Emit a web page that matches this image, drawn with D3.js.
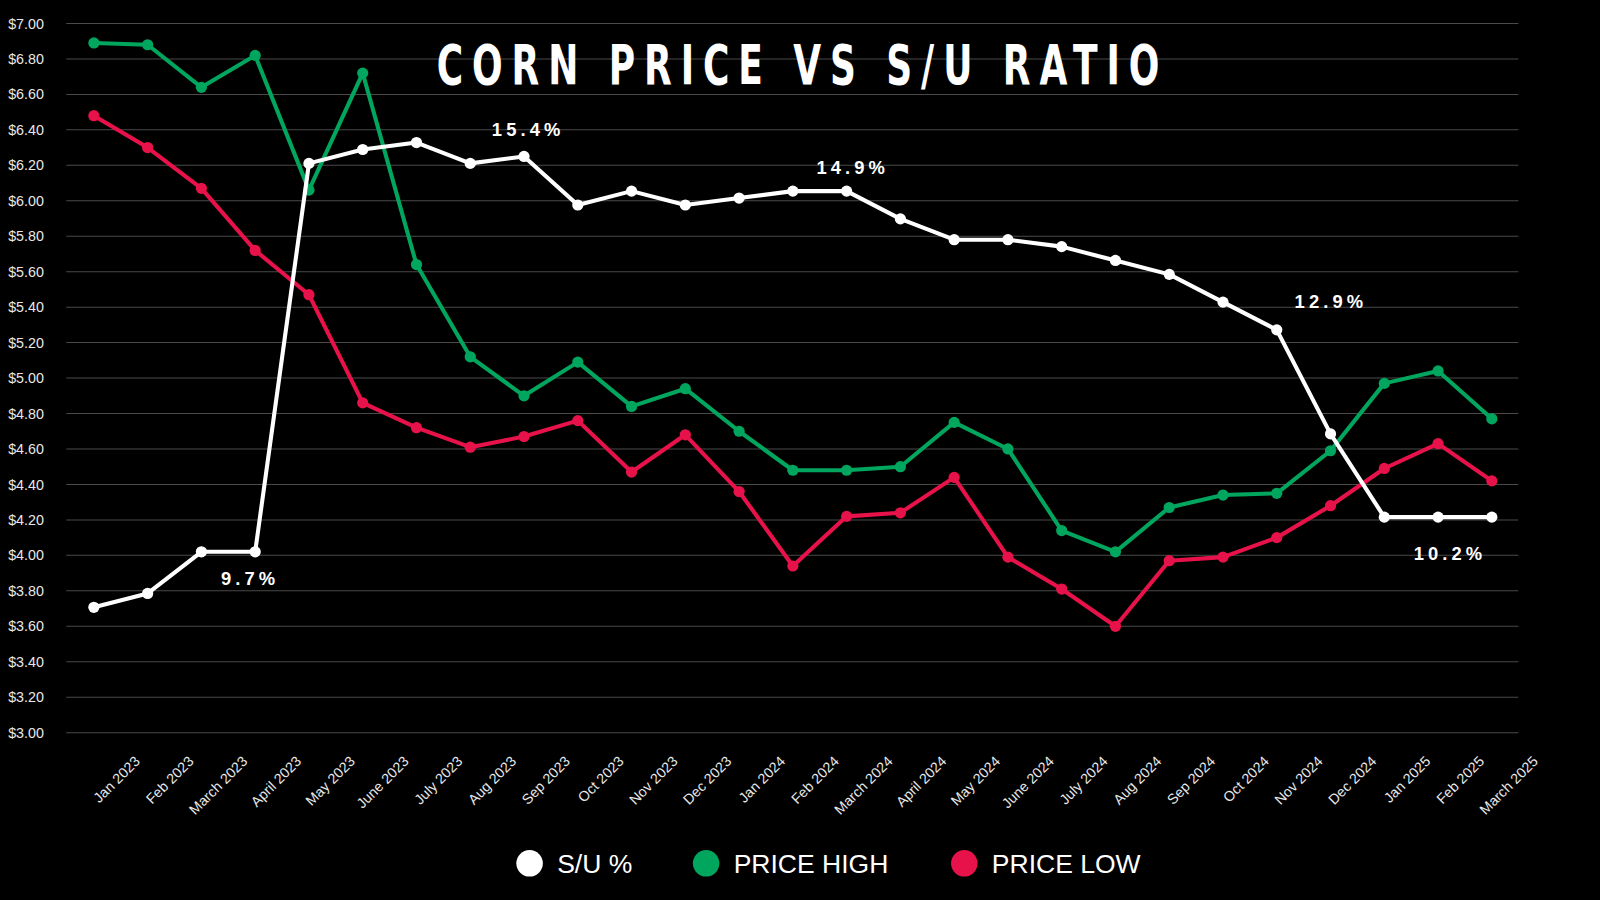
<!DOCTYPE html>
<html>
<head>
<meta charset="utf-8">
<script src="https://cdn.jsdelivr.net/npm/d3@7"></script>
<style>
  html, body { margin: 0; padding: 0; background: #000; }
  svg { display: block; }
</style>
</head>
<body>
<div class="canvas"></div>
<script>
const months = ["Jan 2023", "Feb 2023", "March 2023", "April 2023", "May 2023", "June 2023",
    "July 2023", "Aug 2023", "Sep 2023", "Oct 2023", "Nov 2023", "Dec 2023",
    "Jan 2024", "Feb 2024", "March 2024", "April 2024", "May 2024", "June 2024",
    "July 2024", "Aug 2024", "Sep 2024", "Oct 2024", "Nov 2024", "Dec 2024",
    "Jan 2025", "Feb 2025", "March 2025"];

const priceHigh = [6.89, 6.88, 6.64, 6.82, 6.06, 6.72, 5.64, 5.12, 4.90, 5.09, 4.84, 4.94,
    4.70, 4.48, 4.48, 4.50, 4.75, 4.60, 4.14, 4.02, 4.27, 4.34, 4.35, 4.59, 4.97, 5.04, 4.77];

const priceLow = [6.48, 6.30, 6.07, 5.72, 5.47, 4.86, 4.72, 4.61, 4.67, 4.76, 4.47, 4.68,
    4.36, 3.94, 4.22, 4.24, 4.44, 3.99, 3.81, 3.60, 3.97, 3.99, 4.10, 4.28, 4.49, 4.63, 4.42];

// stocks-to-use ratio, percent
const suRatio = [8.9, 9.1, 9.7, 9.7, 15.3, 15.5, 15.6, 15.3, 15.4, 14.7, 14.9, 14.7,
    14.8, 14.9, 14.9, 14.5, 14.2, 14.2, 14.1, 13.9, 13.7, 13.3, 12.9, 11.4, 10.2, 10.2, 10.2];

const yTicks = d3.range(3, 7.001, 0.2);

const annotations = [
    { i: 3, text: "9.7%", dx: -5, dy: 33 },
    { i: 8, text: "15.4%", dx: 4, dy: -20 },
    { i: 14, text: "14.9%", dx: 6, dy: -17 },
    { i: 22, text: "12.9%", dx: 53, dy: -21 },
    { i: 26, text: "10.2%", dx: -41, dy: 42 },
];

const legendItems = [
    { label: "S/U %", color: "#ffffff" },
    { label: "PRICE HIGH", color: "#00a65e" },
    { label: "PRICE LOW", color: "#e8124a" },
];

const W = 1568, H = 882;
const svg = d3.select(".canvas").append("svg")
    .attr("width", 1600).attr("height", 900)
    .attr("viewBox", `0 0 ${W} ${H}`);

svg.append("rect").attr("width", W).attr("height", H).attr("fill", "#000");

const x = d3.scalePoint().domain(months).range([92, 1462]);
const y = d3.scaleLinear().domain([3, 7]).range([718, 23]);
// S/U drawn against the price axis
const ySU = d3.scaleLinear().domain([9.7, 15.4]).range([y(4.02), y(6.25)]);

// grid + y labels
svg.append("g").selectAll("line").data(yTicks).join("line")
    .attr("x1", 65).attr("x2", 1488)
    .attr("y1", d => y(d)).attr("y2", d => y(d))
    .attr("stroke", "#4a4a4a").attr("stroke-width", 1);

svg.append("g").selectAll("text").data(yTicks).join("text")
    .attr("x", 8).attr("y", d => y(d) + 5)
    .attr("fill", "#e8e8e8")
    .style("font", "14px 'Liberation Sans', Arial, sans-serif")
    .text(d => "$" + d.toFixed(2));

// x labels
svg.append("g").selectAll("text").data(months).join("text")
    .attr("transform", d => `translate(${x(d) + 46},${747}) rotate(-45)`)
    .attr("text-anchor", "end")
    .attr("fill", "#e8e8e8")
    .style("font", "14px 'Liberation Sans', Arial, sans-serif")
    .text(d => d);

// title
svg.append("text")
    .attr("x", 428).attr("y", 82)
    .attr("textLength", 717)
    .attr("lengthAdjust", "spacingAndGlyphs")
    .attr("fill", "#fff")
    .style("font", "bold 54px 'DejaVu Sans Condensed', sans-serif")
    .style("letter-spacing", "12px")
    .text("CORN PRICE VS S/U RATIO");

function drawSeries(values, scale, color) {
    const line = d3.line().x((d, i) => x(months[i])).y(d => scale(d));
    svg.append("path").datum(values)
        .attr("d", line).attr("fill", "none")
        .attr("stroke", color).attr("stroke-width", 4)
        .attr("stroke-linejoin", "round");
    svg.append("g").selectAll("circle").data(values).join("circle")
        .attr("cx", (d, i) => x(months[i])).attr("cy", d => scale(d))
        .attr("r", 5.5).attr("fill", color);
}

drawSeries(priceHigh, y, "#00a65e");
drawSeries(priceLow, y, "#e8124a");
drawSeries(suRatio, ySU, "#ffffff");

svg.append("g").selectAll("text").data(annotations).join("text")
    .attr("x", d => x(months[d.i]) + d.dx)
    .attr("y", d => ySU(suRatio[d.i]) + d.dy)
    .attr("text-anchor", "middle")
    .attr("fill", "#fff")
    .style("font", "bold 18px 'Liberation Sans', Arial, sans-serif")
    .style("letter-spacing", "4px")
    .text(d => d.text);

// legend
const legendX = [519, 692, 945];
const lg = svg.append("g").selectAll("g").data(legendItems).join("g")
    .attr("transform", (d, i) => `translate(${legendX[i]},846)`);
lg.append("circle").attr("r", 13).attr("fill", d => d.color);
lg.append("text").attr("x", 27).attr("y", 10)
    .attr("fill", "#fff")
    .style("font", "26px 'Liberation Sans', Arial, sans-serif")
    .text(d => d.label);
</script>
</body>
</html>
